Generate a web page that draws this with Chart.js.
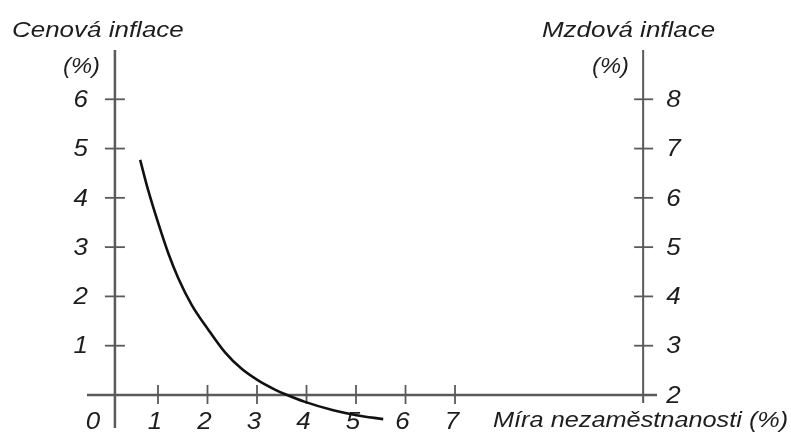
<!DOCTYPE html>
<html>
<head>
<meta charset="utf-8">
<script src="https://cdn.jsdelivr.net/npm/chart.js@4.4.1/dist/chart.umd.min.js"></script>
<style>
  html, body { margin: 0; padding: 0; background: #fff; }
  #wrap { width: 791px; height: 439px; position: relative; }
</style>
</head>
<body>
<div id="wrap"><canvas id="chart"></canvas></div>
<script>
  // Phillips curve: unemployment (x) vs price inflation (left) / wage inflation (right)
  const curveX = [0.64, 0.80, 1.01, 1.21, 1.41, 1.68, 2.02, 2.35, 2.69, 3.03, 3.36, 3.56, 3.97, 4.54, 5.01, 5.55];
  const curveY = [4.77, 4.16, 3.47, 2.87, 2.37, 1.83, 1.32, 0.87, 0.53, 0.29, 0.11, 0.02, -0.14, -0.31, -0.41, -0.49];

  const xTicks = [1, 2, 3, 4, 5, 6, 7];
  const leftTicks = [1, 2, 3, 4, 5, 6];
  const rightTicks = [2, 3, 4, 5, 6, 7, 8];
  const wageOffset = 2; // wage inflation = price inflation + 2

  const leftTitle = "Cenová inflace";
  const rightTitle = "Mzdová inflace";
  const unitLabel = "(%)";
  const xTitle = "Míra nezaměstnanosti (%)";
  const originLabel = "0";

  // Axis layout (data units)
  const xMin = -0.434, xMax = 11.08;
  const yMin = -0.67, yMax = 7.0;
  const leftAxisAt = 0.13;
  const rightAxisAt = 10.8;

  const axisColor = '#5a5a5a';
  const textColor = '#1e1e1e';

  function stretchText(ctx, text, x, y, opts) {
    ctx.save();
    ctx.font = 'italic ' + opts.size + 'px "Liberation Sans", Arial, sans-serif';
    ctx.fillStyle = textColor;
    ctx.textAlign = opts.align || 'left';
    ctx.textBaseline = opts.baseline || 'alphabetic';
    ctx.translate(x, y);
    ctx.scale(opts.stretch || 1.12, 1);
    ctx.fillText(text, 0, 0);
    ctx.restore();
  }

  const axesPlugin = {
    id: 'crossAxes',
    beforeDatasetsDraw(chart) {
      const { ctx } = chart;
      const xs = chart.scales.x, ys = chart.scales.y, y2 = chart.scales.y2;
      const x0 = xs.getPixelForValue(leftAxisAt);
      const xR = xs.getPixelForValue(rightAxisAt);
      const yZero = ys.getPixelForValue(0);
      const yTop = ys.getPixelForValue(yMax);

      ctx.save();
      ctx.strokeStyle = axisColor;
      ctx.lineCap = 'butt';

      // horizontal axis
      ctx.lineWidth = 2.5;
      ctx.beginPath();
      ctx.moveTo(xs.getPixelForValue(xMin), yZero);
      ctx.lineTo(xs.getPixelForValue(xMax), yZero);
      ctx.stroke();

      // left axis
      ctx.beginPath();
      ctx.moveTo(x0, yTop);
      ctx.lineTo(x0, ys.getPixelForValue(yMin));
      ctx.stroke();

      // right axis
      ctx.lineWidth = 2;
      ctx.beginPath();
      ctx.moveTo(xR, yTop);
      ctx.lineTo(xR, yZero + 8);
      ctx.stroke();

      // tick marks crossing the axes
      ctx.lineWidth = 1.8;
      xTicks.forEach(v => {
        const px = xs.getPixelForValue(v);
        ctx.beginPath();
        ctx.moveTo(px, yZero - 10);
        ctx.lineTo(px, yZero + 9);
        ctx.stroke();
      });
      leftTicks.forEach(v => {
        const py = ys.getPixelForValue(v);
        ctx.beginPath();
        ctx.moveTo(x0 - 10, py);
        ctx.lineTo(x0 + 10, py);
        ctx.stroke();
      });
      rightTicks.forEach(v => {
        if (v === wageOffset) return;
        const py = y2.getPixelForValue(v);
        ctx.beginPath();
        ctx.moveTo(xR - 9, py);
        ctx.lineTo(xR + 10, py);
        ctx.stroke();
      });
      ctx.restore();

      // tick labels
      xTicks.forEach(v => {
        stretchText(ctx, String(v), xs.getPixelForValue(v) - 3, yZero + 27, { size: 24, align: 'center', baseline: 'middle', stretch: 1.08 });
      });
      stretchText(ctx, originLabel, x0 - 22, yZero + 27, { size: 24, align: 'center', baseline: 'middle', stretch: 1.08 });
      leftTicks.forEach(v => {
        stretchText(ctx, String(v), x0 - 27, ys.getPixelForValue(v) + 1, { size: 24, align: 'right', baseline: 'middle', stretch: 1.08 });
      });
      rightTicks.forEach(v => {
        stretchText(ctx, String(v), xR + 23, y2.getPixelForValue(v) + 1, { size: 24, align: 'left', baseline: 'middle', stretch: 1.08 });
      });

      // titles
      stretchText(ctx, leftTitle, 12, 37, { size: 22, stretch: 1.18 });
      stretchText(ctx, unitLabel, 63, 73, { size: 22, stretch: 1.08 });
      stretchText(ctx, rightTitle, 542, 37, { size: 22, stretch: 1.18 });
      stretchText(ctx, unitLabel, 592, 73, { size: 22, stretch: 1.08 });
      stretchText(ctx, xTitle, 493, yZero + 26, { size: 22, baseline: 'middle', stretch: 1.15 });
    }
  };

  new Chart(document.getElementById('chart'), {
    type: 'line',
    data: {
      datasets: [{
        label: 'Phillipsova křivka',
        data: curveX.map((x, i) => ({ x, y: curveY[i] })),
        borderColor: '#111',
        borderWidth: 2.6,
        pointRadius: 0,
        fill: false,
        cubicInterpolationMode: 'monotone'
      }]
    },
    options: {
      responsive: true,
      maintainAspectRatio: false,
      animation: false,
      layout: { padding: { left: 87, right: 134, top: 50, bottom: 11 } },
      plugins: { legend: { display: false }, tooltip: { enabled: false } },
      scales: {
        x: { type: 'linear', min: xMin, max: xMax, display: false },
        y: { type: 'linear', min: yMin, max: yMax, display: false },
        y2: { type: 'linear', min: yMin + wageOffset, max: yMax + wageOffset, display: false }
      }
    },
    plugins: [axesPlugin]
  });
</script>
</body>
</html>
